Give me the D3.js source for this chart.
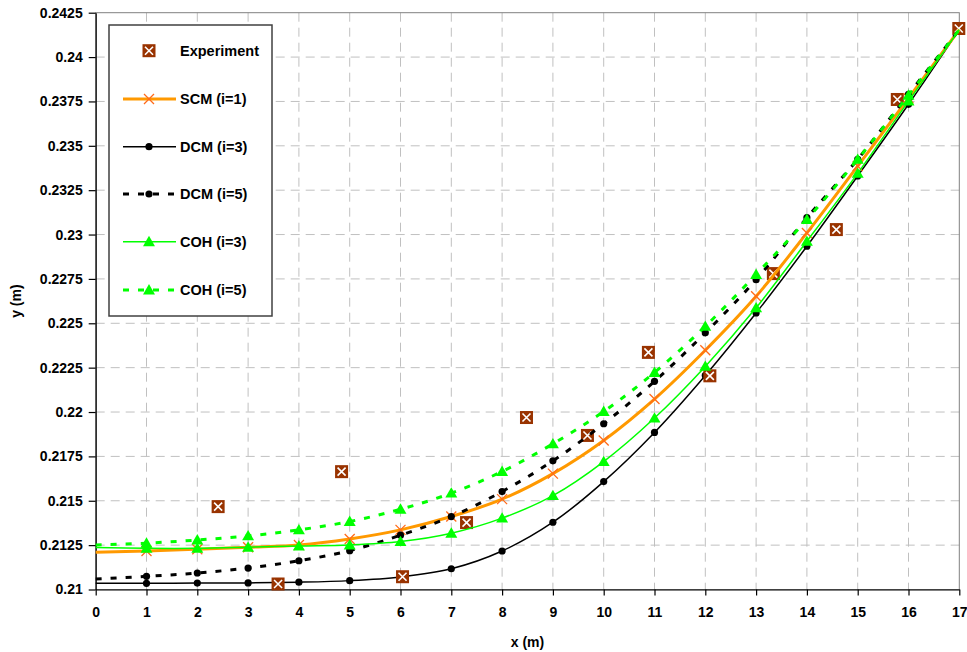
<!DOCTYPE html>
<html lang="en">
<head>
<meta charset="UTF-8">
<title>Profile comparison</title>
<script src="https://cdn.jsdelivr.net/npm/d3@7"></script>
<style>
    body { margin: 0; background: #fff; }
    text { font-family: "Liberation Sans", Arial, sans-serif; font-weight: bold; fill: #000; }
    .grid line { stroke: #c0c0c0; stroke-dasharray: 9,6; }
</style>
</head>
<body>
<svg id="main" width="967" height="652"></svg>
<script>

    // values
    var xPos = [0, 1, 2, 3, 4, 5, 6, 7, 8, 9, 10, 11, 12, 13, 14, 15, 16, 17];
    var scm  = [0.2121, 0.21217, 0.21227, 0.21238, 0.21251, 0.21285, 0.21336, 0.21411, 0.21509, 0.21653, 0.21840, 0.22073, 0.22348, 0.22652, 0.23009, 0.23386, 0.23768, 0.24155];
    var dcm3 = [0.21035, 0.21035, 0.21036, 0.21037, 0.21041, 0.2105, 0.21071, 0.21117, 0.21217, 0.21379, 0.21608, 0.21885, 0.22206, 0.22558, 0.22934, 0.2333, 0.23734, 0.24155];
    var dcm5 = [0.21059, 0.21074, 0.21093, 0.21121, 0.21162, 0.21219, 0.21306, 0.21411, 0.21552, 0.21725, 0.21934, 0.22173, 0.22446, 0.22746, 0.23095, 0.23424, 0.2379, 0.24155];
    var coh3 = [0.21236, 0.21232, 0.21232, 0.21238, 0.21245, 0.21251, 0.2127, 0.21317, 0.21402, 0.21529, 0.21721, 0.21966, 0.22257, 0.22587, 0.22962, 0.23345, 0.23752, 0.24155];
    var coh5 = [0.21251, 0.21261, 0.21279, 0.21302, 0.21336, 0.21383, 0.21452, 0.21543, 0.21665, 0.21821, 0.22003, 0.22223, 0.22483, 0.22775, 0.23085, 0.23424, 0.23785, 0.24155];

    var expX = [2.41, 3.59, 4.84, 6.04, 7.30, 8.48, 9.68, 10.88, 12.09, 13.34, 14.58, 15.78, 16.99];
    var expY = [0.21467, 0.21031, 0.21664, 0.21072, 0.21377, 0.21969, 0.21868, 0.22336, 0.22204, 0.2278, 0.23028, 0.23761, 0.24161];

    var xTicks = d3.range(0, 18);
    var yTicks = [0.21, 0.2125, 0.215, 0.2175, 0.22, 0.2225, 0.225, 0.2275, 0.23, 0.2325, 0.235, 0.2375, 0.24, 0.2425];

    var svg = d3.select("#main");
    var plotLeft = 95.7, plotRight = 959.3, plotTop = 12.7, plotBottom = 589.5;

    var x = d3.scaleLinear().domain([0, 17]).range([plotLeft, plotRight]);
    var y = d3.scaleLinear().domain([0.21, 0.2425]).range([plotBottom, plotTop]);

    // grid
    var grid = svg.append("g").attr("class", "grid");
    grid.selectAll(".gx").data(xTicks.slice(1, -1)).enter().append("line")
        .attr("x1", function(d) { return x(d); }).attr("x2", function(d) { return x(d); })
        .attr("y1", plotTop).attr("y2", plotBottom);
    grid.selectAll(".gy").data(yTicks.slice(1, -1)).enter().append("line")
        .attr("x1", plotLeft).attr("x2", plotRight)
        .attr("y1", function(d) { return y(d); }).attr("y2", function(d) { return y(d); });

    svg.append("rect")
        .attr("x", plotLeft).attr("y", plotTop)
        .attr("width", plotRight - plotLeft).attr("height", plotBottom - plotTop)
        .attr("fill", "none").attr("stroke", "#808080").attr("stroke-width", 1);

    // axes
    var xAxis = svg.append("g")
        .attr("transform", "translate(0," + plotBottom + ")")
        .call(d3.axisBottom(x).tickValues(xTicks).tickSize(6).tickSizeOuter(0).tickFormat(d3.format("d")));
    xAxis.selectAll("text").attr("font-size", 14).attr("dy", "1.35em");

    var yAxis = svg.append("g")
        .attr("transform", "translate(" + plotLeft + ",0)")
        .call(d3.axisLeft(y).tickValues(yTicks).tickSize(7).tickSizeOuter(0).tickFormat(function(d) { return String(+d.toFixed(4)); }));
    yAxis.selectAll("text").attr("font-size", 14).attr("x", -13);
    svg.selectAll(".domain, .tick line").attr("stroke", "#000").attr("stroke-width", 1.2);
    svg.selectAll(".tick text").attr("fill", "#000").style("font-family", "'Liberation Sans', Arial, sans-serif");

    svg.append("text").attr("x", (plotLeft + plotRight) / 2).attr("y", 647)
        .attr("text-anchor", "middle").attr("font-size", 14).text("x (m)");
    svg.append("text").attr("transform", "translate(21," + ((plotTop + plotBottom) / 2) + ") rotate(-90)")
        .attr("text-anchor", "middle").attr("font-size", 14).text("y (m)");

    // series
    var line = d3.line()
        .x(function(d) { return x(d[0]); })
        .y(function(d) { return y(d[1]); })
        .curve(d3.curveCatmullRom.alpha(0.5));

    function pairs(vals) {
        return xPos.map(function(v, i) { return [v, vals[i]]; });
    }

    var tri = d3.symbol().type(d3.symbolTriangle).size(62);

    function crossMark(g, cx, cy, col) {
        g.append("path")
            .attr("d", "M" + (cx - 5) + "," + (cy - 5) + "L" + (cx + 5) + "," + (cy + 5) + "M" + (cx - 5) + "," + (cy + 5) + "L" + (cx + 5) + "," + (cy - 5))
            .attr("stroke", col).attr("stroke-width", 1.3).attr("fill", "none");
    }
    function expMark(g, cx, cy) {
        g.append("rect").attr("x", cx - 6.5).attr("y", cy - 6.5).attr("width", 13).attr("height", 13).attr("fill", "#993300");
        g.append("path")
            .attr("d", "M" + (cx - 4) + "," + (cy - 4) + "L" + (cx + 4) + "," + (cy + 4) + "M" + (cx - 4) + "," + (cy + 4) + "L" + (cx + 4) + "," + (cy - 4))
            .attr("stroke", "#fff").attr("stroke-width", 1.6);
    }
    function dotMark(g, cx, cy) {
        g.append("circle").attr("cx", cx).attr("cy", cy).attr("r", 3.6).attr("fill", "#000");
    }
    function triMark(g, cx, cy) {
        g.append("path").attr("d", tri).attr("transform", "translate(" + cx + "," + (cy + 1) + ")").attr("fill", "#00ff00");
    }

    var series = [
        { name: "DCM (i=3)", vals: dcm3, color: "#000", width: 1.5, dash: null, mark: dotMark },
        { name: "SCM (i=1)", vals: scm, color: "#ff9900", width: 3, dash: null, mark: function(g, cx, cy) { crossMark(g, cx, cy, "#ff6a1a"); } },
        { name: "DCM (i=5)", vals: dcm5, color: "#000", width: 3, dash: "6,9", mark: dotMark },
        { name: "COH (i=3)", vals: coh3, color: "#00ff00", width: 1.5, dash: null, mark: triMark },
        { name: "COH (i=5)", vals: coh5, color: "#00ff00", width: 3, dash: "6,9", mark: triMark }
    ];

    var plot = svg.append("g");

    series.forEach(function(s, k) {
        var g = plot.append("g");
        g.append("path")
            .attr("d", line(pairs(s.vals)))
            .attr("fill", "none")
            .attr("stroke", s.color)
            .attr("stroke-width", s.width)
            .attr("stroke-dasharray", s.dash);
        xPos.forEach(function(v, i) {
            if (i === 0 || i === xPos.length - 1) return;
            s.mark(g, x(v), y(s.vals[i]));
        });
        if (k === 0) {
            var ge = plot.append("g");
            expX.forEach(function(v, i) { expMark(ge, x(v), y(expY[i])); });
        }
    });

    // legend
    var lg = svg.append("g");
    lg.append("rect").attr("x", 109).attr("y", 25).attr("width", 163).attr("height", 291)
        .attr("fill", "#fff").attr("stroke", "#404040").attr("stroke-width", 1.5);

    var rows = [50.7, 99, 146.7, 194, 241.7, 290];
    expMark(lg, 149, rows[0]);
    lg.append("text").attr("x", 180).attr("y", rows[0]).attr("dy", "0.35em").attr("font-size", 14.5).text("Experiment");

    var legendOrder = [series[1], series[0], series[2], series[3], series[4]];
    legendOrder.forEach(function(s, i) {
        var ry = rows[i + 1];
        lg.append("line").attr("x1", 123).attr("x2", 176).attr("y1", ry).attr("y2", ry)
            .attr("stroke", s.color).attr("stroke-width", s.width).attr("stroke-dasharray", s.dash);
        s.mark(lg, 149, ry);
        lg.append("text").attr("x", 180).attr("y", ry).attr("dy", "0.35em").attr("font-size", 14.5).text(s.name);
    });

</script>
</body>
</html>
